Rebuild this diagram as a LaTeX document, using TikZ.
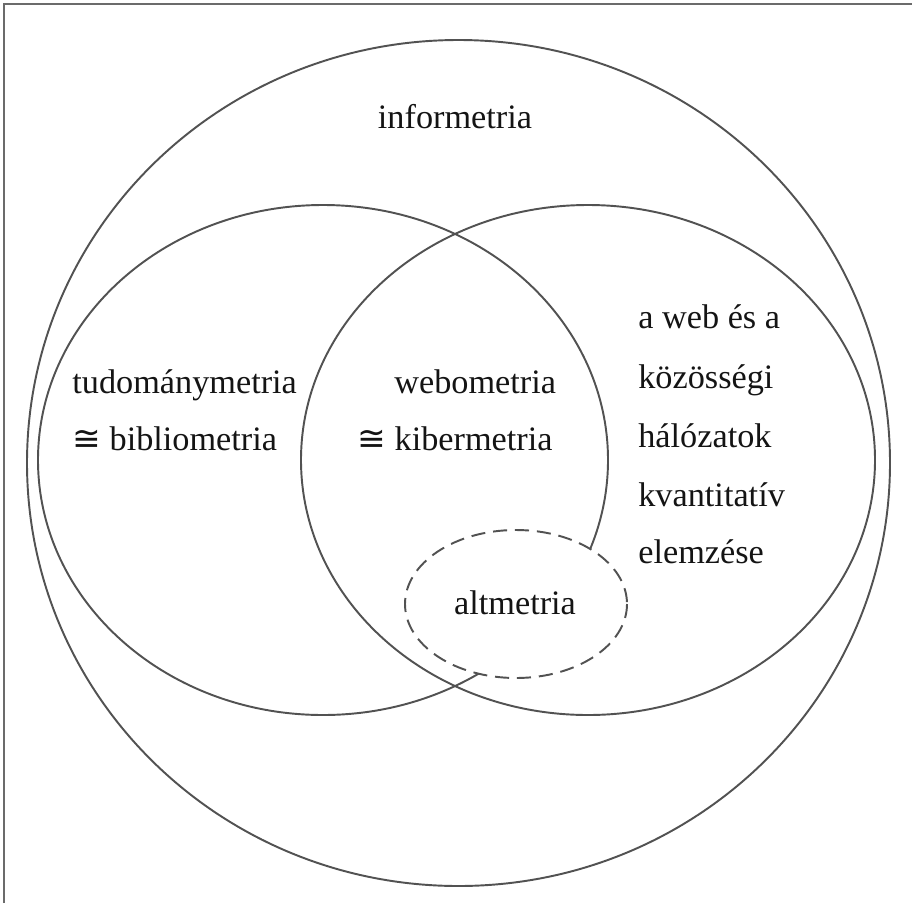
\documentclass[tikz,border=0pt]{standalone}
\usepackage{fontspec}
\setmainfont{Liberation Serif}
\newfontfamily\symfnt{DejaVu Sans}
\newcommand{\congsym}{{\symfnt ≅}}
\begin{document}
\begin{tikzpicture}[x=0.02cm,y=-0.02cm,
  ring/.style={draw=black!68, line width=1.1pt},
  dashring/.style={draw=black!68, line width=1.1pt, fill=white, dash pattern=on 8pt off 4.5pt},
  lbl/.style={font=\fontsize{19.5}{33}\selectfont, inner sep=0pt, text=black!92}]
\useasboundingbox (0,0) rectangle (912,903);
% frame
\draw[black!58, line width=0.9pt] (4,903) -- (4,4) -- (912,4);
% circles
\draw[ring] (458.5,463) ellipse [x radius=431.5, y radius=423];
\draw[ring] (323,460) ellipse [x radius=285, y radius=255];
\draw[ring] (588,460) ellipse [x radius=287, y radius=255];
\draw[dashring] (516,604) ellipse [x radius=111, y radius=74];
% labels
\node[lbl, anchor=base] (info) at (455,128) {informetria};
\node[lbl, anchor=base west] (tud) at (72,393) {tudománymetria};
\node[lbl, anchor=base west] (bib) at (72,450) {\congsym\ bibliometria};
\node[lbl, anchor=base west] (web) at (394,393) {webometria};
\node[lbl, anchor=base west] (kib) at (357,450) {\congsym\ kibermetria};
\node[lbl, anchor=base west] (r1) at (638,328) {a web és a};
\node[lbl, anchor=base west] (r2) at (638,388) {közösségi};
\node[lbl, anchor=base west] (r3) at (638,447) {hálózatok};
\node[lbl, anchor=base west] (r4) at (638,506) {kvantitatív};
\node[lbl, anchor=base west] (r5) at (638,563) {elemzése};
\node[lbl, anchor=base] (alt) at (515,614) {altmetria};
\end{tikzpicture}
\end{document}
